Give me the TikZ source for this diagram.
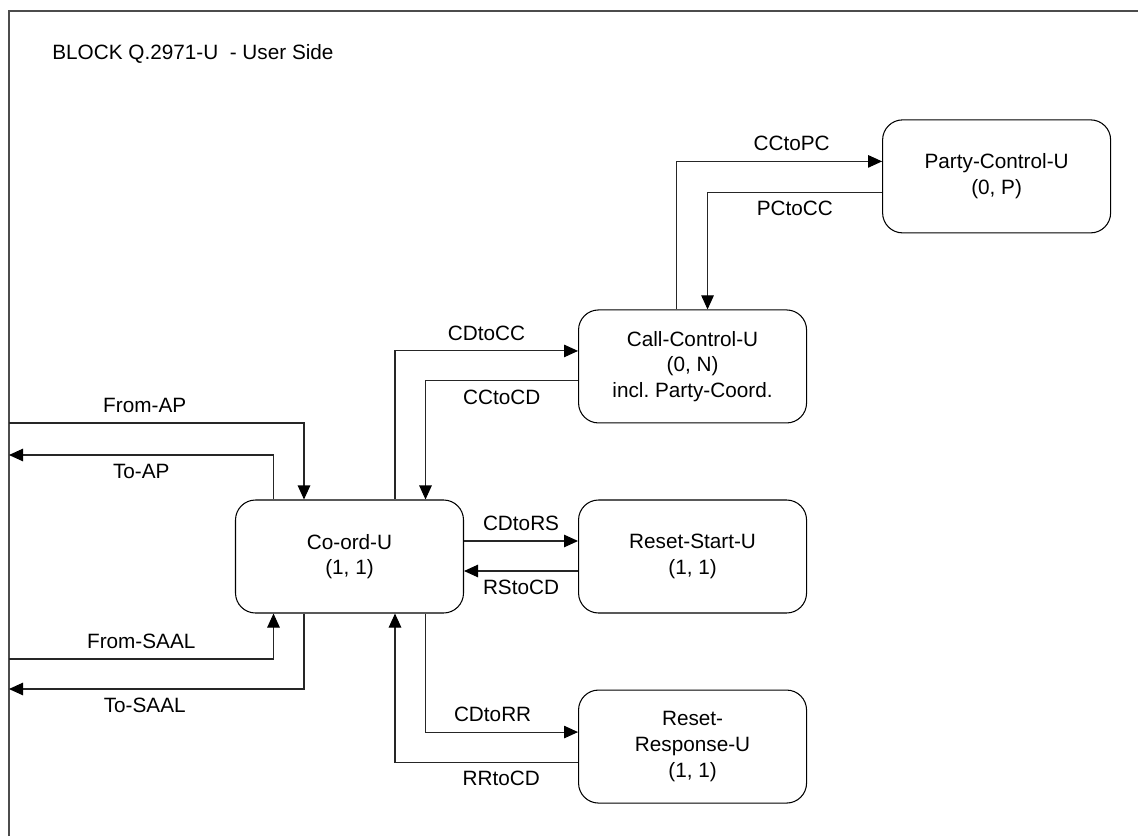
\documentclass[tikz,border=0pt]{standalone}
\usepackage{fontspec}
\setmainfont{Liberation Sans}
\usepackage{tikz}
\usetikzlibrary{calc,positioning,arrows.meta}

\begin{document}
\begin{tikzpicture}[font=\fontsize{11.8}{14.6}\selectfont]
\tikzstyle{blk}=[draw, line width=0.6pt, rounded corners=0.4cm, minimum width=4.56cm, minimum height=2.26cm, align=center, inner sep=0pt]
\tikzstyle{lbl}=[inner sep = 0.2cm, text height=0.72em, text depth=0pt]
\tikzstyle{sig}=[draw=black!85, line width=0.6pt, -{Triangle[length=0.28cm, width=0.25cm, color=black]}]
\pgfmathsetmacro{\gx}{2.28}
\pgfmathsetmacro{\gy}{1.52}

\useasboundingbox (0,0) rectangle (22.76,-16.72);
\draw[black!70, line width=1.1pt] (0.18,-16.72) -- (0.18,-0.22) -- (22.76,-0.22);
\node[anchor=base west, inner sep=0pt] (title) at (1.04,-1.2) {BLOCK Q.2971-U~~- User Side};

\node[blk] (coord) at (6.99,-11.13) {Co-ord-U\\(1, 1)};
\node[blk, right = \gx of coord] (rstart) {Reset-Start-U\\(1, 1)};
\node[blk, above = \gy of rstart] (callctl) {Call-Control-U\\(0, N)\\incl.\ Party-Coord.};
\node[blk, below = \gy of rstart] (rresp) {Reset-\\Response-U\\(1, 1)};
\node[blk, above right = \gy and 1.5 of callctl] (partyctl) {Party-Control-U\\(0, P)};

% free ends on the block frame
\coordinate (fap) at (0.18,-8.46);
\coordinate (tap) at (0.18,-9.10);
\coordinate (fsaal) at (0.18,-13.18);
\coordinate (tsaal) at (0.18,-13.78);

\draw[sig] (fap) -| node[lbl, above, pos=0.23] {From-AP} ($(coord.north)+(-0.91,0)$);
\draw[sig] ($(coord.north)+(-1.52,0)$) |- node[lbl, below, pos=0.75] {To-AP} (tap);
\draw[sig] (fsaal) -| node[lbl, above, pos=0.25] {From-SAAL} ($(coord.south)+(-1.52,0)$);
\draw[sig] ($(coord.south)+(-0.91,0)$) |- node[lbl, below, pos=0.77] {To-SAAL} (tsaal);

\draw[sig] ($(coord.north)+(0.91,0)$) |- node[lbl, above, pos=0.75] {CDtoCC} ($(callctl.west)+(0,0.31)$);
\draw[sig] ($(callctl.west)+(0,-0.29)$) -| node[lbl, below, pos=0.25] {CCtoCD} ($(coord.north)+(1.52,0)$);
\draw[sig] ($(callctl.north)+(-0.32,0)$) |- node[lbl, above, pos=0.78] {CCtoPC} ($(partyctl.west)+(0,0.3)$);
\draw[sig] ($(partyctl.west)+(0,-0.32)$) -| node[lbl, below, pos=0.25] {PCtoCC} ($(callctl.north)+(0.3,0)$);
\draw[sig] ($(coord.east)+(0,0.31)$) -- node[lbl, above] {CDtoRS} ($(rstart.west)+(0,0.31)$);
\draw[sig] ($(rstart.west)+(0,-0.29)$) -- node[lbl, below] {RStoCD} ($(coord.east)+(0,-0.29)$);
\draw[sig] ($(coord.south)+(1.52,0)$) |- node[lbl, above, pos=0.72] {CDtoRR} ($(rresp.west)+(0,0.29)$);
\draw[sig] ($(rresp.west)+(0,-0.31)$) -| node[lbl, below, pos=0.21] {RRtoCD} ($(coord.south)+(0.91,0)$);
\end{tikzpicture}
\end{document}
